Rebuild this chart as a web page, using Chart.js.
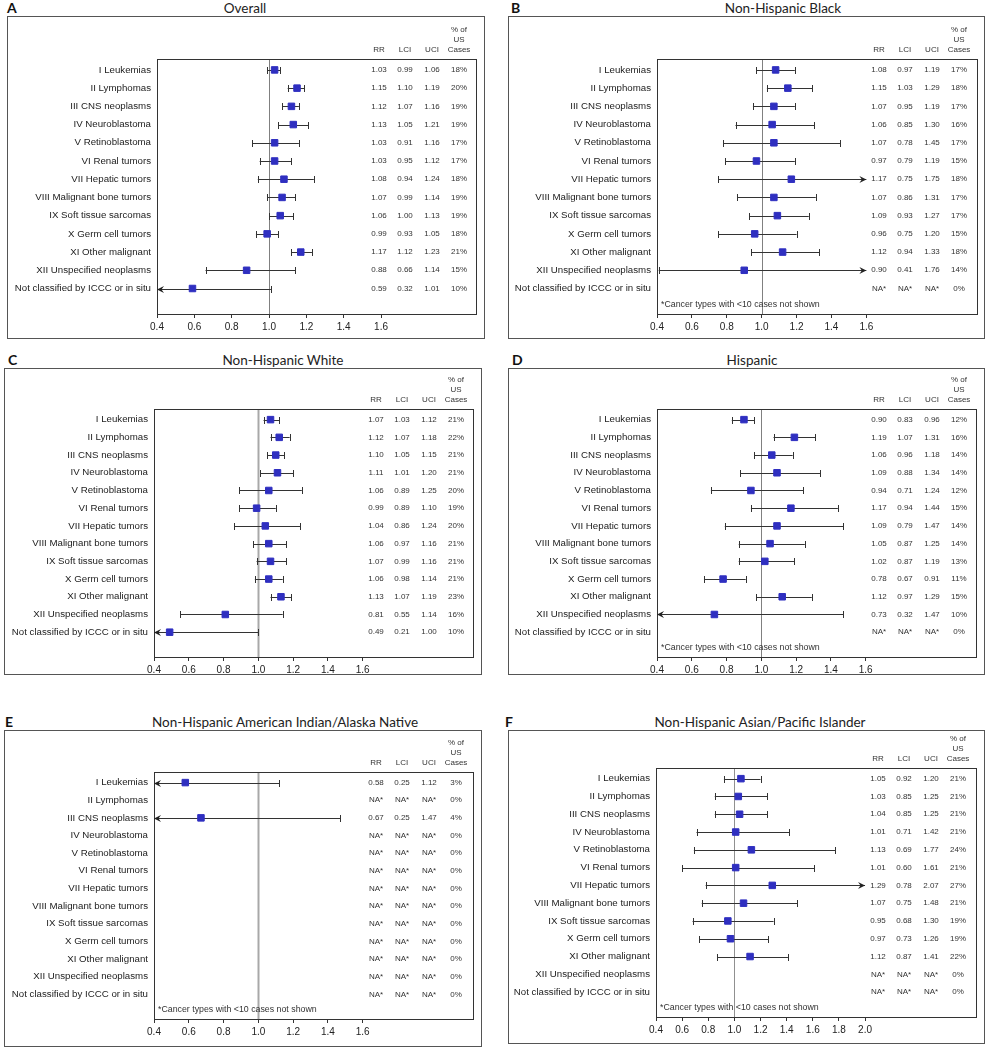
<!DOCTYPE html>
<html>
<head>
<meta charset="utf-8">
<script src="https://cdn.jsdelivr.net/npm/chart.js@4.4.1/dist/chart.umd.min.js"></script>
<style>
  body { margin: 0; background: #fff; width: 990px; height: 1050px; position: relative; overflow: hidden; }
  .letter { position: absolute; font: bold 14px Lato, sans-serif; color: #111; line-height: 16px; }
  .title { position: absolute; font: 13.5px Lato, sans-serif; color: #222; line-height: 16px; transform: translateX(-50%); white-space: nowrap; }
  canvas { position: absolute; }
</style>
</head>
<body>
<script>
const categories = [
  'I Leukemias', 'II Lymphomas', 'III CNS neoplasms', 'IV Neuroblastoma', 'V Retinoblastoma',
  'VI Renal tumors', 'VII Hepatic tumors', 'VIII Malignant bone tumors', 'IX Soft tissue sarcomas',
  'X Germ cell tumors', 'XI Other malignant', 'XII Unspecified neoplasms', 'Not classified by ICCC or in situ'
];
const xTicks = [0.4, 0.6, 0.8, 1.0, 1.2, 1.4, 1.6];
const xTicksApi = [0.4, 0.6, 0.8, 1.0, 1.2, 1.4, 1.6, 1.8, 2.0];

// A - Overall
const rrOverall  = [1.03, 1.15, 1.12, 1.13, 1.03, 1.03, 1.08, 1.07, 1.06, 0.99, 1.17, 0.88, 0.59];
const lciOverall = [0.99, 1.10, 1.07, 1.05, 0.91, 0.95, 0.94, 0.99, 1.00, 0.93, 1.12, 0.66, 0.32];
const uciOverall = [1.06, 1.19, 1.16, 1.21, 1.16, 1.12, 1.24, 1.14, 1.13, 1.05, 1.23, 1.14, 1.01];
const pctOverall = [18, 20, 19, 19, 17, 17, 18, 19, 19, 18, 21, 15, 10];

// B - Non-Hispanic Black
const rrBlack  = [1.08, 1.15, 1.07, 1.06, 1.07, 0.97, 1.17, 1.07, 1.09, 0.96, 1.12, 0.90, null];
const lciBlack = [0.97, 1.03, 0.95, 0.85, 0.78, 0.79, 0.75, 0.86, 0.93, 0.75, 0.94, 0.41, null];
const uciBlack = [1.19, 1.29, 1.19, 1.30, 1.45, 1.19, 1.75, 1.31, 1.27, 1.20, 1.33, 1.76, null];
const pctBlack = [17, 18, 17, 16, 17, 15, 18, 17, 17, 15, 18, 14, 0];

// C - Non-Hispanic White
const rrWhite  = [1.07, 1.12, 1.10, 1.11, 1.06, 0.99, 1.04, 1.06, 1.07, 1.06, 1.13, 0.81, 0.49];
const lciWhite = [1.03, 1.07, 1.05, 1.01, 0.89, 0.89, 0.86, 0.97, 0.99, 0.98, 1.07, 0.55, 0.21];
const uciWhite = [1.12, 1.18, 1.15, 1.20, 1.25, 1.10, 1.24, 1.16, 1.16, 1.14, 1.19, 1.14, 1.00];
const pctWhite = [21, 22, 21, 21, 20, 19, 20, 21, 21, 21, 23, 16, 10];

// D - Hispanic
const rrHisp  = [0.90, 1.19, 1.06, 1.09, 0.94, 1.17, 1.09, 1.05, 1.02, 0.78, 1.12, 0.73, null];
const lciHisp = [0.83, 1.07, 0.96, 0.88, 0.71, 0.94, 0.79, 0.87, 0.87, 0.67, 0.97, 0.32, null];
const uciHisp = [0.96, 1.31, 1.18, 1.34, 1.24, 1.44, 1.47, 1.25, 1.19, 0.91, 1.29, 1.47, null];
const pctHisp = [12, 16, 14, 14, 12, 15, 14, 14, 13, 11, 15, 10, 0];

// E - Non-Hispanic American Indian/Alaska Native
const rrAian  = [0.58, null, 0.67, null, null, null, null, null, null, null, null, null, null];
const lciAian = [0.25, null, 0.25, null, null, null, null, null, null, null, null, null, null];
const uciAian = [1.12, null, 1.47, null, null, null, null, null, null, null, null, null, null];
const pctAian = [3, 0, 4, 0, 0, 0, 0, 0, 0, 0, 0, 0, 0];

// F - Non-Hispanic Asian/Pacific Islander
const rrApi  = [1.05, 1.03, 1.04, 1.01, 1.13, 1.01, 1.29, 1.07, 0.95, 0.97, 1.12, null, null];
const lciApi = [0.92, 0.85, 0.85, 0.71, 0.69, 0.60, 0.78, 0.75, 0.68, 0.73, 0.87, null, null];
const uciApi = [1.20, 1.25, 1.25, 1.42, 1.77, 1.61, 2.07, 1.48, 1.30, 1.26, 1.41, null, null];
const pctApi = [21, 21, 21, 21, 24, 21, 27, 21, 19, 19, 22, 0, 0];

const note = '*Cancer types with <10 cases not shown';
const colOffsets = [222, 248, 275, 302];
const labelFont = '"Liberation Sans", Arial, sans-serif';

const panels = [
  { letter: 'A', title: 'Overall', rr: rrOverall, lci: lciOverall, uci: uciOverall, pct: pctOverall, ticks: xTicks, note: false,
    box: [7, 16, 478, 323], pad: [150, 43, 8, 25], xMax: 2.114, letterPos: [7, 0], titleX: 245, titleY: 0, ref: ['#808080', 1] },
  { letter: 'B', title: 'Non-Hispanic Black', rr: rrBlack, lci: lciBlack, uci: uciBlack, pct: pctBlack, ticks: xTicks, note: true,
    box: [508, 16, 477, 323], pad: [149, 43, 7, 25], xMax: 2.24, letterPos: [511, 0], titleX: 783, titleY: 0, ref: ['#808080', 1] },
  { letter: 'C', title: 'Non-Hispanic White', rr: rrWhite, lci: lciWhite, uci: uciWhite, pct: pctWhite, ticks: xTicks, note: false,
    box: [4, 368, 478, 307], pad: [150, 41, 8, 18], xMax: 2.24, letterPos: [8, 352], titleX: 283, titleY: 352, ref: ['#a8a8a8', 2] },
  { letter: 'D', title: 'Hispanic', rr: rrHisp, lci: lciHisp, uci: uciHisp, pct: pctHisp, ticks: xTicks, note: true,
    box: [508, 368, 477, 307], pad: [149, 41, 8, 18], xMax: 2.24, letterPos: [512, 352], titleX: 752, titleY: 352, ref: ['#808080', 1] },
  { letter: 'E', title: 'Non-Hispanic American Indian/Alaska Native', rr: rrAian, lci: lciAian, uci: uciAian, pct: pctAian, ticks: xTicks, note: true,
    box: [4, 730, 478, 317], pad: [150, 42, 8, 28], xMax: 2.24, letterPos: [5, 714], titleX: 285, titleY: 714, ref: ['#a8a8a8', 2] },
  { letter: 'F', title: 'Non-Hispanic Asian/Pacific Islander', rr: rrApi, lci: lciApi, uci: uciApi, pct: pctApi, ticks: xTicksApi, note: true,
    box: [508, 730, 477, 314], pad: [148, 38, 8, 27], xMax: 2.857, letterPos: [505, 714], titleX: 760, titleY: 714, ref: ['#909090', 1] }
];

// whisker end: cap (dir 0) or arrow head pointing left (-1) / right (1)
function whiskerEnd(ctx, x, y, dir) {
  if (dir === 0) {
    ctx.beginPath();
    ctx.moveTo(Math.round(x) + 0.5, y - 3.5);
    ctx.lineTo(Math.round(x) + 0.5, y + 3.5);
    ctx.stroke();
    return;
  }
  ctx.beginPath();
  ctx.moveTo(x, y);
  ctx.lineTo(x - dir * 7, y - 3.5);
  ctx.lineTo(x - dir * 4.5, y);
  ctx.lineTo(x - dir * 7, y + 3.5);
  ctx.closePath();
  ctx.fill();
}

const forestPlugin = {
  id: 'forest',
  beforeDatasetsDraw(chart, args, opts) {
    const p = opts.panel;
    const { ctx, chartArea: a, scales: { x, y } } = chart;
    ctx.save();
    ctx.lineWidth = 1;
    ctx.strokeStyle = '#555';
    ctx.strokeRect(0.5, 0.5, chart.width - 1, chart.height - 1);
    ctx.strokeStyle = '#333';
    ctx.strokeRect(a.left + 0.5, a.top + 0.5, a.right - a.left - 1, a.bottom - a.top);

    // reference line at RR = 1.0
    const xr = Math.round(x.getPixelForValue(1)) + 0.5;
    ctx.strokeStyle = p.ref[0];
    ctx.lineWidth = p.ref[1];
    ctx.beginPath();
    ctx.moveTo(xr, a.top + 1);
    ctx.lineTo(xr, a.bottom);
    ctx.stroke();

    // confidence intervals
    const lo = x.min, hi = p.ticks[p.ticks.length - 1];
    ctx.strokeStyle = '#333';
    ctx.fillStyle = '#222';
    ctx.lineWidth = 1;
    p.rr.forEach((v, i) => {
      if (v == null) return;
      const py = Math.round(y.getPixelForValue(i)) + 0.5;
      const xl = x.getPixelForValue(Math.max(p.lci[i], lo));
      const xu = x.getPixelForValue(Math.min(p.uci[i], hi));
      ctx.beginPath();
      ctx.moveTo(xl, py);
      ctx.lineTo(xu, py);
      ctx.stroke();
      whiskerEnd(ctx, xl, py, p.lci[i] < lo ? -1 : 0);
      whiskerEnd(ctx, xu, py, p.uci[i] > hi ? 1 : 0);
    });
    ctx.restore();
  },
  afterDraw(chart, args, opts) {
    const p = opts.panel;
    const { ctx, chartArea: a, scales: { y } } = chart;
    const cols = colOffsets.map(o => a.left + o);
    ctx.save();
    ctx.fillStyle = '#333';
    ctx.textAlign = 'center';
    ctx.textBaseline = 'middle';
    ctx.font = '8px ' + labelFont;
    ['RR', 'LCI', 'UCI'].forEach((h, k) => ctx.fillText(h, cols[k], a.top - 9));
    ['% of', 'US', 'Cases'].forEach((h, k) => ctx.fillText(h, cols[3], a.top - 29 + k * 10));
    p.rr.forEach((v, i) => {
      const py = y.getPixelForValue(i);
      const cells = v == null ? ['NA*', 'NA*', 'NA*'] : [v, p.lci[i], p.uci[i]].map(n => n.toFixed(2));
      cells.push(p.pct[i] + '%');
      cells.forEach((t, k) => ctx.fillText(t, cols[k], py));
    });
    if (p.note) {
      ctx.textAlign = 'left';
      ctx.font = '8.8px ' + labelFont;
      ctx.fillText(note, a.left + 4, a.bottom - 9);
    }
    ctx.restore();
  }
};

panels.forEach(p => {
  const letter = document.createElement('div');
  letter.className = 'letter';
  letter.textContent = p.letter;
  letter.style.left = p.letterPos[0] + 'px';
  letter.style.top = p.letterPos[1] + 'px';
  document.body.appendChild(letter);

  const title = document.createElement('div');
  title.className = 'title';
  title.textContent = p.title;
  title.style.left = p.titleX + 'px';
  title.style.top = p.titleY + 'px';
  document.body.appendChild(title);

  const canvas = document.createElement('canvas');
  canvas.width = p.box[2];
  canvas.height = p.box[3];
  canvas.style.left = p.box[0] + 'px';
  canvas.style.top = p.box[1] + 'px';
  document.body.appendChild(canvas);

  const points = p.rr.map((v, i) => v == null ? null : { x: v, y: i }).filter(Boolean);

  new Chart(canvas, {
    type: 'scatter',
    data: {
      datasets: [{
        data: points,
        pointStyle: 'rect',
        pointRadius: 4.6,
        backgroundColor: '#2f2fc0',
        borderColor: '#2f2fc0',
        borderWidth: 1
      }]
    },
    options: {
      responsive: false,
      animation: false,
      layout: { padding: { left: 0, top: p.pad[1], right: p.pad[2], bottom: 0 } },
      plugins: {
        legend: { display: false },
        tooltip: { enabled: false },
        forest: { panel: p }
      },
      scales: {
        x: {
          type: 'linear',
          min: 0.4,
          max: p.xMax,
          afterBuildTicks: s => { s.ticks = p.ticks.map(v => ({ value: v })); },
          afterFit: s => { s.height = p.pad[3]; },
          grid: { display: true, drawOnChartArea: false, drawTicks: true, tickLength: 4, color: '#333' },
          border: { display: false },
          ticks: {
            padding: 3,
            maxRotation: 0,
            autoSkip: false,
            color: '#222',
            font: { family: labelFont, size: 10 },
            callback: v => v.toFixed(1)
          }
        },
        y: {
          type: 'linear',
          reverse: true,
          min: -0.6,
          max: 13.4,
          afterBuildTicks: s => { s.ticks = categories.map((c, i) => ({ value: i })); },
          afterFit: s => { s.width = p.pad[0]; },
          grid: { display: false, drawTicks: false },
          border: { display: false },
          ticks: {
            padding: 6,
            autoSkip: false,
            color: '#222',
            font: { family: labelFont, size: 9.7 },
            callback: v => categories[v]
          }
        }
      }
    },
    plugins: [forestPlugin]
  });
});
</script>
</body>
</html>
